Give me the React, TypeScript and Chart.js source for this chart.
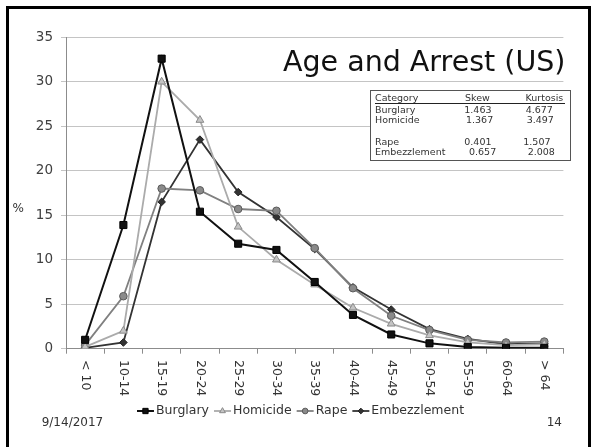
import React, { useEffect, useRef } from 'react';
import { Chart, registerables } from 'chart.js';
import { drawPoint } from 'chart.js/helpers';

Chart.register(...registerables);

const categories = ['< 10', '10-14', '15-19', '20-24', '25-29', '30-34', '35-39', '40-44', '45-49', '50-54', '55-59', '60-64', '> 64'];
const burglary = [1.0, 13.9, 32.6, 15.4, 11.8, 11.1, 7.5, 3.8, 1.6, 0.6, 0.2, 0.1, 0.1];
const homicide = [0.2, 2.0, 30.0, 25.7, 13.7, 10.0, 7.2, 4.6, 2.8, 1.5, 0.7, 0.4, 0.5];
const rape = [0.4, 5.9, 18.0, 17.8, 15.7, 15.5, 11.3, 6.8, 3.7, 2.1, 1.0, 0.7, 0.8];
const embezzlement = [0.1, 0.7, 16.5, 23.5, 17.6, 14.8, 11.2, 6.9, 4.4, 2.2, 1.1, 0.5, 0.6];
const seriesNames = ['Burglary', 'Homicide', 'Rape', 'Embezzlement'];
const yMin = 0;
const yMax = 35;
const yStep = 5;

const tableHeader = ['Category', 'Skew', 'Kurtosis'];
const tableCategories = ['Burglary', 'Homicide', 'Rape', 'Embezzlement'];
const tableSkew = ['1.463', '1.367', '0.401', '0.657'];
const tableKurtosis = ['4.677', '3.497', '1.507', '2.008'];

const titleText = 'Age and Arrest (US)';
const yTitle = '%';
const dateText = '9/14/2017';
const pageText = '14';

const FONT = '"DejaVu Sans", Verdana, sans-serif';

const styles = [
  { line: '#111111', width: 2, point: 'rect', radius: 5, bg: '#111111', border: '#000000' },
  { line: '#ababab', width: 1.8, point: 'triangle', radius: 4.5, bg: '#c4c4c4', border: '#8a8a8a' },
  { line: '#808080', width: 1.8, point: 'circle', radius: 3.8, bg: '#8a8a8a', border: '#5a5a5a' },
  { line: '#333333', width: 1.8, point: 'rectRot', radius: 3.8, bg: '#333333', border: '#222222' },
];

const overlayPlugin = {
  id: 'overlay',
  afterDraw(chart: any) {
    const ctx = chart.ctx;
    const xs = chart.scales.x;
    ctx.save();
    // rotated category labels (clockwise)
    ctx.font = `12.5px ${FONT}`;
    ctx.fillStyle = '#333333';
    (chart.data.labels as string[]).forEach((lab, i) => {
      const px = xs.getPixelForValue(i);
      ctx.save();
      ctx.translate(px, 360);
      ctx.rotate(Math.PI / 2);
      ctx.textAlign = 'left';
      ctx.textBaseline = 'middle';
      ctx.fillText(lab, 0, 0);
      ctx.restore();
    });
    // legend
    const ly = 411;
    const sampleW = 17;
    const gapText = 2;
    const gapItem = 5;
    ctx.font = `12.5px ${FONT}`;
    const items = chart.data.datasets.map((ds: any) => ({ ds, w: ctx.measureText(ds.label).width }));
    const total = items.reduce((s: number, it: any) => s + sampleW + gapText + it.w, 0) + gapItem * (items.length - 1);
    let sx = 300.5 - total / 2;
    items.forEach((it: any) => {
      const ds = it.ds;
      ctx.strokeStyle = ds.borderColor;
      ctx.lineWidth = ds.borderWidth;
      ctx.beginPath();
      ctx.moveTo(sx, ly);
      ctx.lineTo(sx + sampleW, ly);
      ctx.stroke();
      ctx.fillStyle = ds.pointBackgroundColor;
      ctx.strokeStyle = ds.pointBorderColor;
      ctx.lineWidth = 1;
      drawPoint(ctx, { pointStyle: ds.pointStyle, radius: ds.pointRadius * 0.75, rotation: 0, borderWidth: 1 } as any, sx + sampleW / 2, ly);
      ctx.fillStyle = '#333333';
      ctx.textAlign = 'left';
      ctx.textBaseline = 'middle';
      ctx.fillText(ds.label, sx + sampleW + gapText, ly);
      sx += sampleW + gapText + it.w + gapItem;
    });
    ctx.restore();
  },
};

const abs = (left: number, top: number, size: number, extra: any = {}) => ({
  position: 'absolute' as const,
  left,
  top: top - size / 2,
  fontSize: size,
  lineHeight: 1,
  fontFamily: FONT,
  color: '#333333',
  whiteSpace: 'nowrap' as const,
  ...extra,
});

export default function App() {
  const ref = useRef<HTMLCanvasElement>(null);

  useEffect(() => {
    if (!ref.current) return;
    const seriesData = [burglary, homicide, rape, embezzlement];
    const chart = new Chart(ref.current, {
      type: 'line',
      data: {
        labels: categories,
        datasets: seriesData.map((d, i) => ({
          label: seriesNames[i],
          data: d,
          borderColor: styles[i].line,
          borderWidth: styles[i].width,
          pointStyle: styles[i].point as any,
          pointRadius: styles[i].radius,
          pointBackgroundColor: styles[i].bg,
          pointBorderColor: styles[i].border,
          pointBorderWidth: 1,
          tension: 0,
          fill: false,
        })),
      },
      options: {
        responsive: false,
        animation: false,
        events: [],
        layout: { padding: { top: 37.3, right: 32.6, left: 0, bottom: 0 } },
        plugins: { legend: { display: false }, tooltip: { enabled: false }, title: { display: false } },
        scales: {
          x: {
            type: 'category',
            offset: true,
            grid: { display: true, drawOnChartArea: false, drawTicks: true, tickLength: 5, offset: true, color: '#8c8c8c' },
            border: { display: true, color: '#8c8c8c' },
            ticks: { display: false },
            afterFit: (s: any) => { s.height = 447 - 348.7; },
          },
          y: {
            min: yMin,
            max: yMax,
            ticks: { stepSize: yStep, font: { family: FONT, size: 13.5 }, color: '#404040', padding: 8 },
            grid: { color: '#c4c4c4', tickLength: 5, drawTicks: true },
            border: { display: true, color: '#8c8c8c' },
            afterFit: (s: any) => { s.width = 66; },
          },
        },
      },
      plugins: [overlayPlugin],
    });
    return () => chart.destroy();
  }, []);

  const rowY = [109.7, 120.2, 141.8, 152.2];
  const skewX = [464.3, 466, 464.3, 469];
  const kurtX = [525.7, 526.7, 523.3, 527.7];

  return (
    <div style={{ position: 'fixed', left: 0, top: 0, width: 596, height: 447, overflow: 'hidden', background: '#ffffff' }}>
      <canvas ref={ref} width={596} height={447} style={{ position: 'absolute', left: 0, top: 0, width: 596, height: 447, display: 'block' }} />
      <div style={{ position: 'absolute', left: 6, top: 6, width: 585, height: 470, border: '3px solid #000', boxSizing: 'border-box', pointerEvents: 'none' }} />
      <div style={abs(283, 62.5, 28.5, { color: '#111111' })}>{titleText}</div>
      <div style={{ position: 'absolute', left: 370, top: 90, width: 201, height: 71, border: '1px solid #555', background: '#ffffff', boxSizing: 'border-box' }} />
      <div style={abs(375, 97.5, 9.5)}>{tableHeader[0]}</div>
      <div style={abs(465, 97.5, 9.5)}>{tableHeader[1]}</div>
      <div style={abs(525.5, 97.5, 9.5)}>{tableHeader[2]}</div>
      <div style={{ position: 'absolute', left: 375, top: 102.5, width: 190, height: 1, background: '#222' }} />
      {tableCategories.map((c, i) => (
        <React.Fragment key={c}>
          <div style={abs(375, rowY[i], 9.5)}>{c}</div>
          <div style={abs(skewX[i], rowY[i], 9.5)}>{tableSkew[i]}</div>
          <div style={abs(kurtX[i], rowY[i], 9.5)}>{tableKurtosis[i]}</div>
        </React.Fragment>
      ))}
      <div style={abs(12.5, 208, 12)}>{yTitle}</div>
      <div style={abs(41.7, 421.5, 12)}>{dateText}</div>
      <div style={{ ...abs(0, 421.5, 12), left: undefined, right: 34 }}>{pageText}</div>
    </div>
  );
}
